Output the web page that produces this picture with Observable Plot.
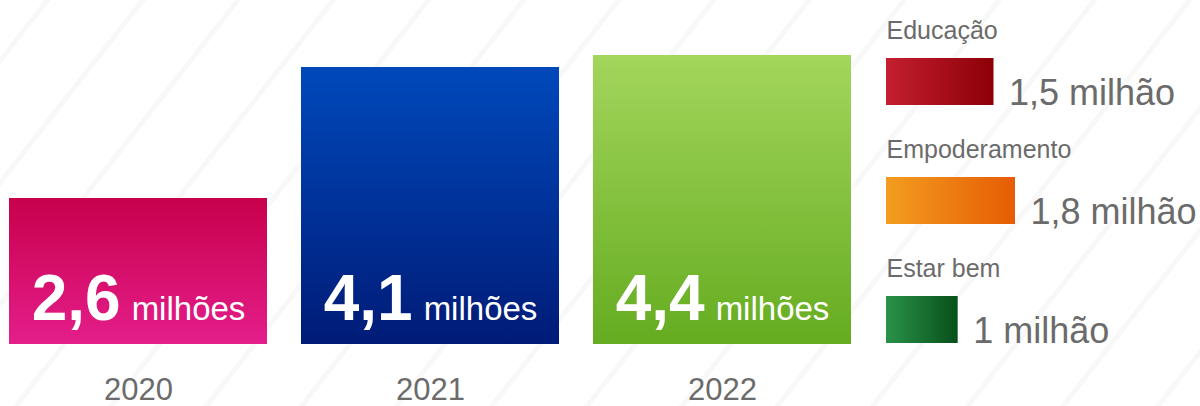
<!DOCTYPE html>
<html><head><meta charset="utf-8">
<script src="https://cdn.jsdelivr.net/npm/d3@7"></script>
<script src="https://cdn.jsdelivr.net/npm/@observablehq/plot@0.6"></script>
<style>
html,body{margin:0;padding:0;background:#fff;}
#chart{position:relative;width:1200px;height:406px;overflow:hidden;font-family:"Liberation Sans",Arial,sans-serif;
background: repeating-linear-gradient(128deg, rgba(0,0,0,0) 0px, rgba(0,0,0,0) 35px, #f8f8f8 35px, #f8f8f8 40px, rgba(0,0,0,0) 40px, rgba(0,0,0,0) 75px);}
#chart > svg{position:absolute;top:0;}
</style></head><body><div id="chart"></div>
<script>
// ---- data ----
const years = ["2020", "2021", "2022"];
const totals = [2.6, 4.1, 4.4];
const totalUnit = "milhões";
const areas = ["Educação", "Empoderamento", "Estar bem"];
const areaValues = [1.5, 1.8, 1.0];
const areaUnit = "milhão";

// ---- palette (gradients) ----
const yearTop = ["#c8004b", "#0049bb", "#a3d65c"];
const yearBottom = ["#e41e8b", "#001b77", "#65ac20"];
const areaLeft = ["#c41f2f", "#f39d1f", "#2a9248"];
const areaRight = ["#8c0006", "#e65c04", "#07501a"];

const fmt = d3.formatLocale({decimal: ",", thousands: ".", grouping: [3], currency: ["", ""]}).format(".2~f");
const font = "'Liberation Sans', Arial, Helvetica, sans-serif";
const grey = "#6b6b6b";

const yearData = years.map((year, i) => ({year, total: totals[i]}));
const areaData = areas.map((area, i) => ({area, value: areaValues[i]}));

// ---- main bars ----
const main = Plot.plot({
  width: 870, height: 406, margin: 0,
  style: {background: "transparent", overflow: "visible", fontFamily: font},
  x: {type: "band", domain: years, range: [8, 851], paddingInner: 0.118, paddingOuter: 0, axis: null},
  y: {type: "linear", domain: [0, 2.6, 4.1, 4.4], range: [344, 198, 67, 55], axis: null},
  color: {type: "identity"},
  marks: [
    Plot.barY(yearData, {x: "year", y: "total", fill: d => `url(#grad-year-${years.indexOf(d.year)})`}),
    Plot.text(yearData, {x: "year", y: 0, text: d => fmt(d.total), lineAnchor: "bottom", dy: -25, fill: "white", fontSize: 64}),
    Plot.text(yearData, {x: "year", y: 0, text: "year", lineAnchor: "bottom", dy: 55, fontSize: 31, fill: grey})
  ]
});

const mdefs = d3.select(main).insert("defs", ":first-child");
years.forEach((y, i) => {
  const g = mdefs.append("linearGradient").attr("id", "grad-year-" + i)
    .attr("x1", 0).attr("y1", 0).attr("x2", 0).attr("y2", 1);
  g.append("stop").attr("offset", 0).attr("stop-color", yearTop[i]);
  g.append("stop").attr("offset", 1).attr("stop-color", yearBottom[i]);
});

// split value labels into bold number + unit
const labelGroup = d3.select(main).selectAll('g[aria-label="text"]').nodes()[0];
d3.select(labelGroup).selectAll("text").each(function(_, j) {
  const t = d3.select(this);
  const txt = fmt(yearData[j].total);
  t.text(null);
  t.append("tspan").attr("font-weight", "bold").attr("font-size", 64).text(txt);
  t.append("tspan").attr("font-weight", "normal").attr("font-size", 33).attr("dx", 11).text(totalUnit);
});

// ---- legend bars ----
const legend = Plot.plot({
  width: 330, height: 406, margin: 0,
  style: {background: "transparent", overflow: "visible", fontFamily: font},
  x: {type: "linear", domain: [0, 1.8], range: [16, 145], axis: null},
  y: {type: "band", domain: areas, range: [57, 344], paddingInner: 0.6083, paddingOuter: 0, axis: null},
  color: {type: "identity"},
  marks: [
    Plot.barX(areaData, {y: "area", x: "value", fill: d => `url(#grad-area-${areas.indexOf(d.area)})`}),
    Plot.text(areaData, {y: "area", x: 0, text: "area", textAnchor: "start", lineAnchor: "bottom", dy: -43.5, fontSize: 25, fill: grey}),
    Plot.text(areaData, {y: "area", x: "value", text: d => fmt(d.value) + " " + areaUnit, textAnchor: "start", lineAnchor: "bottom", dx: 15, dy: 22.5, fontSize: 36, fill: grey})
  ]
});

const ldefs = d3.select(legend).insert("defs", ":first-child");
areas.forEach((a, i) => {
  const g = ldefs.append("linearGradient").attr("id", "grad-area-" + i)
    .attr("x1", 0).attr("y1", 0).attr("x2", 1).attr("y2", 0);
  g.append("stop").attr("offset", 0).attr("stop-color", areaLeft[i]);
  g.append("stop").attr("offset", 1).attr("stop-color", areaRight[i]);
});

const chart = document.getElementById("chart");
main.style.left = "0px";
legend.style.left = "870px";
chart.appendChild(main);
chart.appendChild(legend);
</script>
</body></html>
